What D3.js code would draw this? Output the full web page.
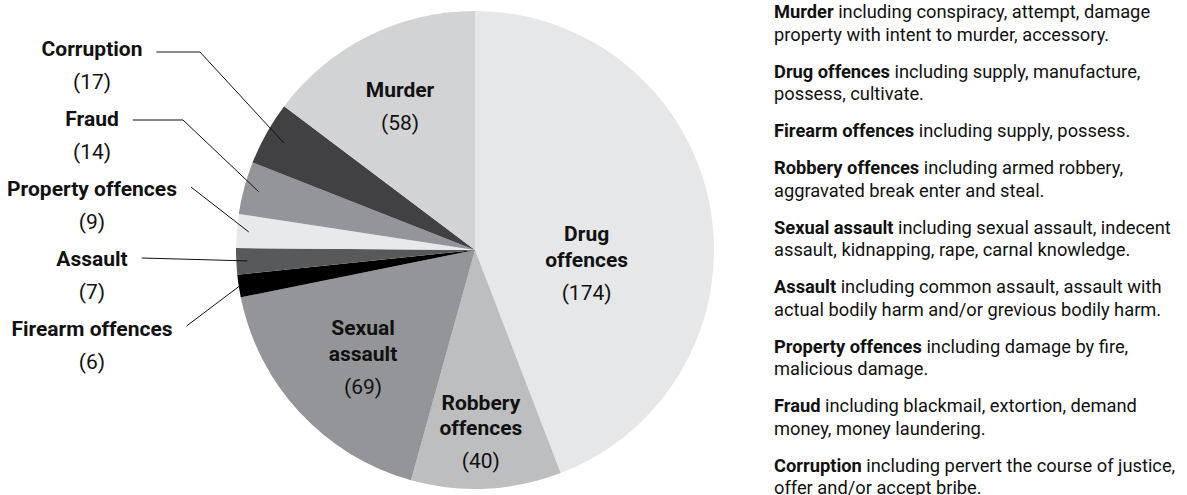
<!DOCTYPE html>
<html>
<head>
<meta charset="utf-8">
<script src="https://cdn.jsdelivr.net/npm/d3@7"></script>
<style>
  html, body { margin: 0; padding: 0; background: #fff; }
  svg { display: block; }
  text { fill: #111; font-family: "Liberation Sans Narrow", "Arial Narrow", "Roboto", sans-serif; }
</style>
</head>
<body>
<svg id="chart" width="1187" height="495"></svg>
<script>
// ---- data ----
const categories = ["Drug offences", "Robbery offences", "Sexual assault", "Firearm offences",
  "Assault", "Property offences", "Fraud", "Corruption", "Murder"];
const counts = [174, 40, 69, 6, 7, 9, 14, 17, 58];
const sliceLabelLines = [["Drug", "offences"], ["Robbery", "offences"], ["Sexual", "assault"], null,
  null, null, null, null, ["Murder"]];
const outsideLabels = ["Corruption", "Fraud", "Property offences", "Assault", "Firearm offences"];
const legendTerms = ["Murder", "Drug offences", "Firearm offences", "Robbery offences", "Sexual assault",
  "Assault", "Property offences", "Fraud", "Corruption"];
const legendLines = [
  [" including conspiracy, attempt, damage", "property with intent to murder, accessory."],
  [" including supply, manufacture,", "possess, cultivate."],
  [" including supply, possess."],
  [" including armed robbery,", "aggravated break enter and steal."],
  [" including sexual assault, indecent", "assault, kidnapping, rape, carnal knowledge."],
  [" including common assault, assault with", "actual bodily harm and/or grevious bodily harm."],
  [" including damage by fire,", "malicious damage."],
  [" including blackmail, extortion, demand", "money, money laundering."],
  [" including pervert the course of justice,", "offer and/or accept bribe."]
];

// ---- styles / layout ----
const colors = ["#e6e7e8", "#bcbec0", "#939598", "#000000", "#58595b", "#e8e9ea", "#939598", "#414042", "#d1d3d4"];
const cx = 475, cy = 250, R = 239;
// label anchor (angle in degrees clockwise from top, radius) for inside labels
const insidePos = {"Drug offences": [85.4, 112], "Robbery offences": [177.9, 160],
  "Sexual assault": [232.8, 140.6], "Murder": [333.9, 170.4]};
// leader line config
const leaderCfg = {"Corruption": {elbowX: 200, r: 219, dy: -4}, "Fraud": {elbowX: 183, r: 224, dy: -6},
  "Property offences": {elbowX: null, r: 227, dy: -9}, "Assault": {elbowX: null, r: 228, dy: -8},
  "Firearm offences": {elbowX: null, r: 238, dy: -10}};
const labelFont = 21, legendFont = 18.3;

const svg = d3.select("#chart");
const g = svg.append("g").attr("transform", `translate(${cx},${cy})`);

const pie = d3.pie().sort(null).value(d => d.v);
const data = categories.map((c, i) => ({c, v: counts[i], i}));
const arcs = pie(data);
const arc = d3.arc().innerRadius(0).outerRadius(R);

g.selectAll("path.slice").data(arcs).join("path")
  .attr("class", "slice")
  .attr("d", arc)
  .attr("fill", d => colors[d.data.i]);

const polar = (deg, r) => {
  const a = deg * Math.PI / 180;
  return [r * Math.sin(a), -r * Math.cos(a)];
};

// inside labels
arcs.forEach(d => {
  const lines = sliceLabelLines[d.data.i];
  if (!lines) return;
  const [ang, r] = insidePos[d.data.c];
  const [x, y] = polar(ang, r);
  const t = g.append("text").attr("text-anchor", "middle").attr("font-size", labelFont);
  lines.forEach((l, k) => {
    t.append("tspan").attr("x", x).attr("y", y + k * 25.5).attr("font-weight", "bold").text(l);
  });
  t.append("tspan").attr("x", x).attr("y", y + (lines.length - 1) * 25.5 + 33).text(`(${d.data.v})`);
});

// outside labels
const yScale = d3.scalePoint().domain(outsideLabels).range([56, 336]);
const labelX = 92;
outsideLabels.forEach(name => {
  const d = arcs.find(a => a.data.c === name);
  const y = yScale(name);
  const t = svg.append("text").attr("text-anchor", "middle").attr("font-size", labelFont);
  const nameSpan = t.append("tspan").attr("x", labelX).attr("y", y).attr("font-weight", "bold").text(name);
  t.append("tspan").attr("x", labelX).attr("y", y + 33).text(`(${d.data.v})`);
  const w = nameSpan.node().getComputedTextLength();
  const cfg = leaderCfg[name];
  const mid = (d.startAngle + d.endAngle) / 2 * 180 / Math.PI;
  const [ex, ey] = polar(mid, cfg.r);
  const sx = labelX + w / 2 + 14, sy = y + cfg.dy;
  const pts = [[sx, sy]];
  if (cfg.elbowX) pts.push([cfg.elbowX, sy]);
  pts.push([cx + ex, cy + ey]);
  svg.append("path").attr("d", d3.line()(pts)).attr("fill", "none").attr("stroke", "#111").attr("stroke-width", 1);
});

// legend
const legX = 774;
let by = 18;
const lineH = 22.5, paraGap = 37;
legendTerms.forEach((term, i) => {
  const lines = legendLines[i];
  const t = svg.append("text").attr("font-size", legendFont);
  const first = t.append("tspan").attr("x", legX).attr("y", by);
  first.append("tspan").attr("font-weight", "bold").text(term);
  first.append("tspan").text(lines[0]);
  for (let k = 1; k < lines.length; k++) {
    t.append("tspan").attr("x", legX).attr("y", by + k * lineH).text(lines[k]);
  }
  by += (lines.length - 1) * lineH + paraGap;
});
</script>
</body>
</html>
